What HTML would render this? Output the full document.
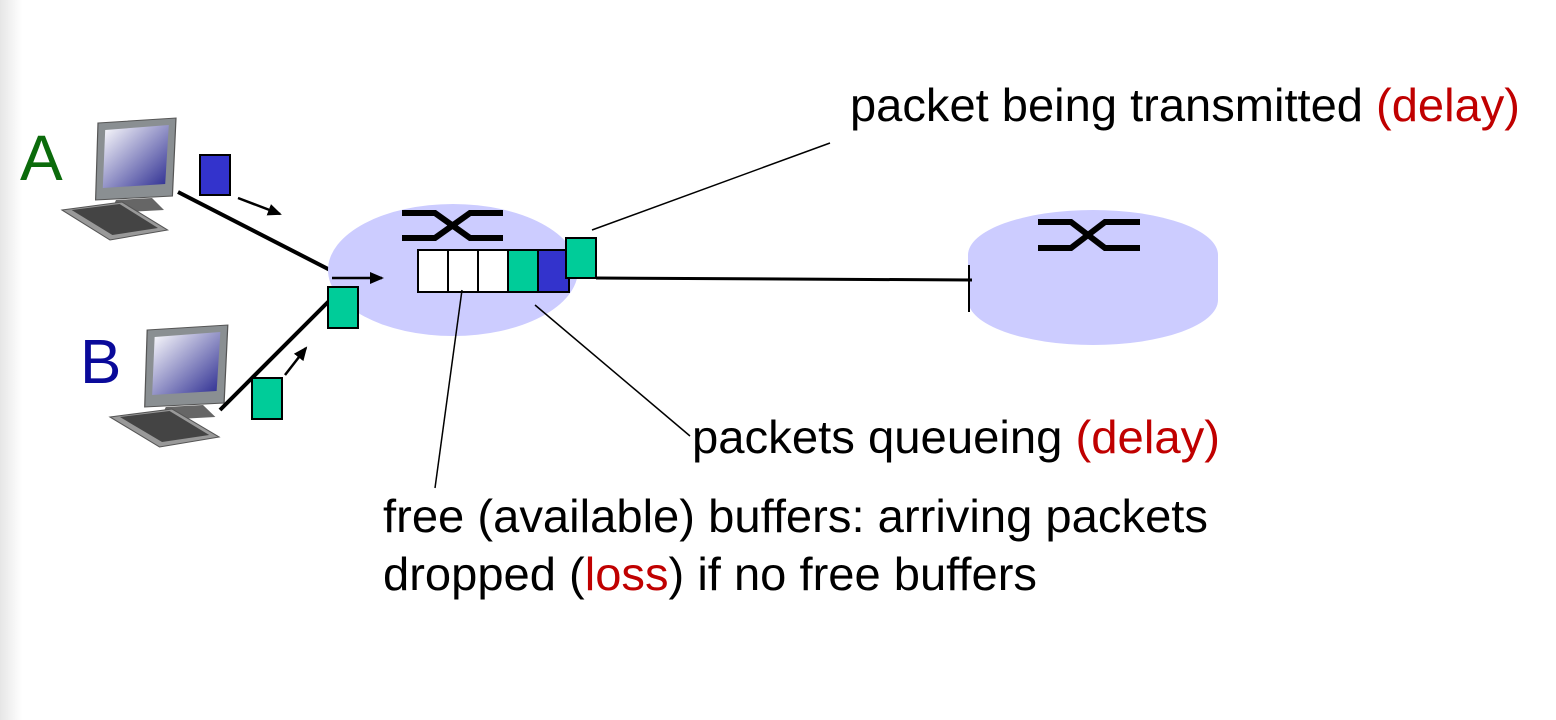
<!DOCTYPE html>
<html><head><style>html,body{margin:0;padding:0;background:#fff;}svg{display:block;}</style></head>
<body>
<svg width="1556" height="720" viewBox="0 0 1556 720" xmlns="http://www.w3.org/2000/svg" font-family="Liberation Sans, Arial, sans-serif">
<defs>
<linearGradient id="scr" x1="0" y1="0" x2="1" y2="1"><stop offset="0" stop-color="#fff"/><stop offset="1" stop-color="#2a2a90"/></linearGradient>
<linearGradient id="edge" x1="0" x2="1"><stop offset="0" stop-color="#e6e6e6"/><stop offset="1" stop-color="#fff"/></linearGradient>
<marker id="ar" markerWidth="14" markerHeight="14" refX="12" refY="7" orient="auto" markerUnits="userSpaceOnUse"><path d="M0,1 L14,7 L0,13 z" fill="#000"/></marker>
<g id="pc">
 <polygon points="30,5 95,0 92,78 28,82" fill="#8a8f92" stroke="#555" stroke-width="1"/>
 <polygon points="36,12 89,7 86,66 34,70" fill="url(#scr)"/>
 <polygon points="45,82 75,80 85,92 40,95" fill="#666"/>
 <polygon points="0,92 50,84 88,112 40,122" fill="#999" stroke="#555"/>
 <polygon points="8,92 48,86 80,110 42,117" fill="#444"/>
</g>
</defs>
<rect x="0" y="0" width="22" height="720" fill="url(#edge)"/>
<text x="20" y="180" font-size="64" fill="#0b6b0b">A</text>
<text x="80" y="383" font-size="62" fill="#0a0a9a">B</text>
<use href="#pc" transform="translate(62,118) scale(1.2,1.0)"/>
<use href="#pc" transform="translate(110,325) scale(1.24,1.0)"/>
<line x1="178" y1="192" x2="330" y2="270" stroke="#000" stroke-width="4"/>
<line x1="220" y1="410" x2="330" y2="300" stroke="#000" stroke-width="4"/>
<ellipse cx="453" cy="270" rx="125" ry="66" fill="#ccccff"/>
<g stroke="#000" stroke-width="6" fill="none">
<path d="M402,213 H435 L470,238 H503"/><path d="M402,238 H435 L470,213 H503"/>
</g>
<path d="M968,255 A125,45 0 0 1 1218,255 V300 A125,45 0 0 1 968,300 Z" fill="#ccccff"/>
<g stroke="#000" stroke-width="6" fill="none">
<path d="M1038,222 H1071 L1105,248 H1140"/><path d="M1038,248 H1071 L1105,222 H1140"/>
</g>
<line x1="596" y1="278" x2="972" y2="280" stroke="#000" stroke-width="3"/>
<line x1="969" y1="265" x2="969" y2="312" stroke="#000" stroke-width="2"/>
<g stroke="#000" stroke-width="2">
<rect x="418" y="250" width="30" height="42" fill="#fff"/>
<rect x="448" y="250" width="30" height="42" fill="#fff"/>
<rect x="478" y="250" width="30" height="42" fill="#fff"/>
<rect x="508" y="250" width="30" height="42" fill="#00cc99"/>
<rect x="538" y="250" width="31" height="42" fill="#3333cc"/>
<rect x="566" y="238" width="30" height="40" fill="#00cc99"/>
<rect x="200" y="155" width="30" height="40" fill="#3333cc"/>
<rect x="328" y="287" width="30" height="41" fill="#00cc99"/>
<rect x="252" y="378" width="30" height="41" fill="#00cc99"/>
</g>
<line x1="238" y1="198" x2="280" y2="214" stroke="#000" stroke-width="2.5" marker-end="url(#ar)"/>
<line x1="332" y1="278" x2="382" y2="278" stroke="#000" stroke-width="2.5" marker-end="url(#ar)"/>
<line x1="285" y1="375" x2="306" y2="348" stroke="#000" stroke-width="2.5" marker-end="url(#ar)"/>
<g stroke="#000" stroke-width="1.5">
<line x1="830" y1="143" x2="592" y2="230"/>
<line x1="535" y1="305" x2="690" y2="436"/>
<line x1="462" y1="290" x2="435" y2="488"/>
</g>
<g font-size="46" fill="#000">
<text x="850" y="121" textLength="670" lengthAdjust="spacingAndGlyphs">packet being transmitted <tspan fill="#c00000">(delay)</tspan></text>
<text x="692" y="453" textLength="528" lengthAdjust="spacingAndGlyphs">packets queueing <tspan fill="#c00000">(delay)</tspan></text>
<text x="383" y="532" textLength="825" lengthAdjust="spacingAndGlyphs">free (available) buffers: arriving packets</text>
<text x="383" y="590" textLength="654" lengthAdjust="spacingAndGlyphs">dropped (<tspan fill="#c00000">loss</tspan>) if no free buffers</text>
</g>
</svg>
</body></html>
